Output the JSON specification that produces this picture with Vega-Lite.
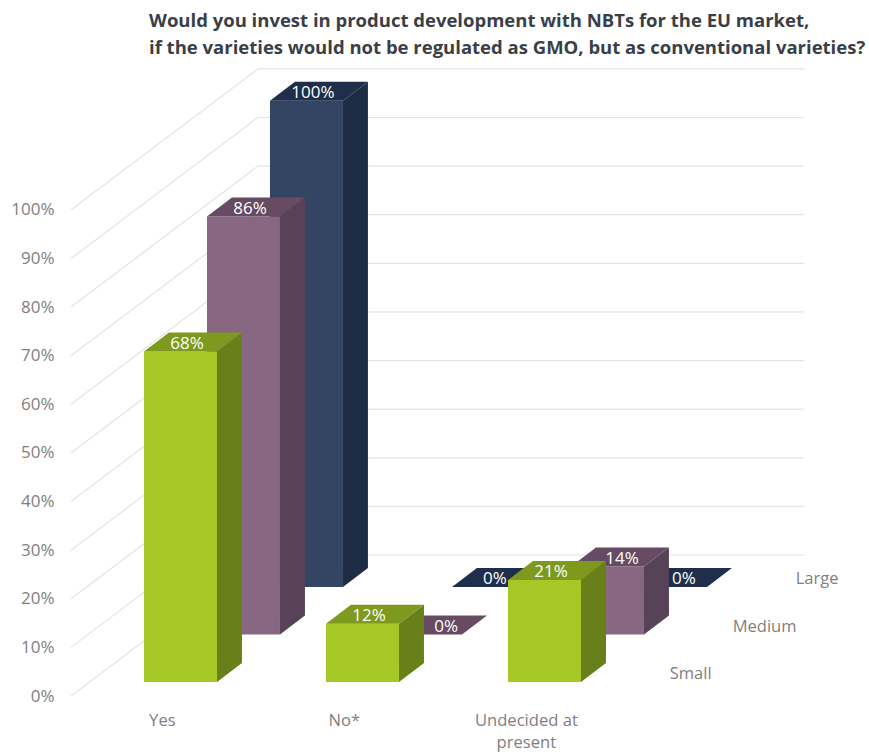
{
  "$schema": "https://vega.github.io/schema/vega-lite/v6.json",
  "width": 798,
  "height": 632,
  "autosize": "none",
  "padding": {"left": 71, "top": 64, "right": 0, "bottom": 56},
  "background": "white",
  "title": {
    "text": [
      "Would you invest in product development with NBTs for the EU market,",
      "if the varieties would not be regulated as GMO, but as conventional varieties?"
    ],
    "anchor": "start",
    "frame": "group",
    "dx": 78,
    "offset": 7,
    "font": "Open Sans",
    "fontWeight": "bold",
    "fontSize": 18.5,
    "lineHeight": 27,
    "color": "#3A3F47"
  },
  "datasets": {
    "bars": [
      {"category": "Yes", "series": "Large", "value": 100},
      {"category": "No*", "series": "Large", "value": 0},
      {"category": "Undecided at present", "series": "Large", "value": 0},
      {"category": "Yes", "series": "Medium", "value": 86},
      {"category": "No*", "series": "Medium", "value": 0},
      {"category": "Undecided at present", "series": "Medium", "value": 14},
      {"category": "Yes", "series": "Small", "value": 68},
      {"category": "No*", "series": "Small", "value": 12},
      {"category": "Undecided at present", "series": "Small", "value": 21}
    ],
    "ticks": [
      {"tick": 0}, {"tick": 10}, {"tick": 20}, {"tick": 30}, {"tick": 40}, {"tick": 50},
      {"tick": 60}, {"tick": 70}, {"tick": 80}, {"tick": 90}, {"tick": 100}
    ]
  },
  "layer": [
    {
      "description": "Side wall and back wall gridlines, projected into the oblique view",
      "data": {"name": "ticks"},
      "transform": [
        {"calculate": "[0, 1, 2]", "as": "vertex"},
        {"flatten": ["vertex"]},
        {"calculate": "[0, 38.48, 150.8][datum.vertex]", "as": "px"},
        {"calculate": "datum.tick + (datum.vertex > 0 ? 29 : 0)", "as": "py"}
      ],
      "mark": {"type": "line", "stroke": "#E4E4E4", "strokeWidth": 1.2},
      "encoding": {
        "x": {"field": "px", "type": "quantitative", "scale": {"domain": [0, 164.2], "nice": false}, "axis": null},
        "y": {
          "field": "py",
          "type": "quantitative",
          "scale": {"domain": [0, 130], "nice": false},
          "axis": {
            "values": [0, 10, 20, 30, 40, 50, 60, 70, 80, 90, 100],
            "labelExpr": "datum.value + '%'",
            "title": null,
            "domain": false,
            "ticks": false,
            "grid": false,
            "labelPadding": 17,
            "labelFont": "Open Sans",
            "labelFontSize": 17,
            "labelColor": "#7F7F7F"
          }
        },
        "detail": {"field": "tick"},
        "order": {"field": "vertex"}
      }
    },
    {
      "description": "Front, side and top faces of each bar, back row first",
      "data": {"name": "bars"},
      "transform": [
        {"calculate": "indexof(['Yes', 'No*', 'Undecided at present'], datum.category)", "as": "c"},
        {"calculate": "indexof(['Small', 'Medium', 'Large'], datum.series)", "as": "d"},
        {"calculate": "15.02 + 37.45 * datum.c + 12.96 * datum.d", "as": "x0"},
        {"calculate": "2.88 + 9.77 * datum.d", "as": "y0"},
        {"calculate": "['front', 'side', 'top']", "as": "face"},
        {"flatten": ["face"]},
        {"calculate": "[0, 1, 2, 3]", "as": "vertex"},
        {"flatten": ["vertex"]},
        {"calculate": "datum.series + '-' + datum.category + '-' + datum.face", "as": "polygon"},
        {"calculate": "datum.series + '-' + datum.face", "as": "shade"},
        {"calculate": "datum.face == 'front' ? [0, 15.02, 15.02, 0][datum.vertex] : datum.face == 'side' ? [15.02, 20.16, 20.16, 15.02][datum.vertex] : [0, 15.02, 20.16, 5.14][datum.vertex]", "as": "ox"},
        {"calculate": "datum.face == 'front' ? [0, 0, datum.value, datum.value][datum.vertex] : datum.face == 'side' ? [0, 3.91, datum.value + 3.91, datum.value][datum.vertex] : [datum.value, datum.value, datum.value + 3.91, datum.value + 3.91][datum.vertex]", "as": "oy"},
        {"calculate": "datum.x0 + datum.ox", "as": "px"},
        {"calculate": "datum.y0 + datum.oy", "as": "py"}
      ],
      "mark": {"type": "line", "filled": true, "strokeWidth": 0, "interpolate": "linear"},
      "encoding": {
        "x": {"field": "px", "type": "quantitative"},
        "y": {"field": "py", "type": "quantitative"},
        "detail": {"field": "polygon"},
        "order": {"field": "vertex"},
        "fill": {
          "field": "shade",
          "type": "nominal",
          "legend": null,
          "scale": {
            "domain": ["Small-front", "Small-side", "Small-top", "Medium-front", "Medium-side", "Medium-top", "Large-front", "Large-side", "Large-top"],
            "range": ["#A6C827", "#67801A", "#7D991E", "#886783", "#584257", "#664B63", "#344463", "#1F2D44", "#1F2E4A"]
          }
        }
      }
    },
    {
      "description": "Value labels on the top face of each bar",
      "data": {"name": "bars"},
      "transform": [
        {"calculate": "indexof(['Yes', 'No*', 'Undecided at present'], datum.category)", "as": "c"},
        {"calculate": "indexof(['Small', 'Medium', 'Large'], datum.series)", "as": "d"},
        {"calculate": "datum.d == 1 && datum.c == 1 ? 2.9 : datum.d == 1 && datum.c == 2 ? 1.65 : datum.d == 2 && datum.c == 2 ? 1.44 : 0", "as": "nudge"},
        {"calculate": "15.02 + 37.45 * datum.c + 12.96 * datum.d + 8.85 + datum.nudge", "as": "px"},
        {"calculate": "2.88 + 9.77 * datum.d + datum.value + 1.55", "as": "py"},
        {"calculate": "datum.value + '%'", "as": "label"}
      ],
      "mark": {"type": "text", "font": "Open Sans", "fontSize": 17, "color": "white", "align": "center", "baseline": "middle"},
      "encoding": {
        "x": {"field": "px", "type": "quantitative"},
        "y": {"field": "py", "type": "quantitative"},
        "text": {"field": "label", "type": "nominal"}
      }
    },
    {
      "description": "Category names under the front row",
      "data": {"name": "bars"},
      "transform": [
        {"filter": "datum.series == 'Small'"},
        {"calculate": "indexof(['Yes', 'No*', 'Undecided at present'], datum.category)", "as": "c"},
        {"calculate": "18.8 + 37.45 * datum.c", "as": "px"},
        {"calculate": "-5.05", "as": "py"},
        {"calculate": "replace(datum.category, ' at present', ' at|present')", "as": "label"}
      ],
      "mark": {"type": "text", "font": "Open Sans", "fontSize": 16.6, "color": "#7F7F7F", "align": "center", "baseline": "middle", "lineBreak": "|", "lineHeight": 22.3},
      "encoding": {
        "x": {"field": "px", "type": "quantitative"},
        "y": {"field": "py", "type": "quantitative"},
        "text": {"field": "label", "type": "nominal"}
      }
    },
    {
      "description": "Size group names along the depth axis",
      "data": {"name": "bars"},
      "transform": [
        {"filter": "datum.category == 'Yes'"},
        {"calculate": "indexof(['Small', 'Medium', 'Large'], datum.series)", "as": "d"},
        {"calculate": "123.2 + 12.96 * datum.d", "as": "px"},
        {"calculate": "4.5 + 9.77 * datum.d", "as": "py"}
      ],
      "mark": {"type": "text", "font": "Open Sans", "fontSize": 16.5, "color": "#7F7F7F", "align": "left", "baseline": "middle"},
      "encoding": {
        "x": {"field": "px", "type": "quantitative"},
        "y": {"field": "py", "type": "quantitative"},
        "text": {"field": "series", "type": "nominal"}
      }
    }
  ],
  "config": {"view": {"stroke": null}}
}
